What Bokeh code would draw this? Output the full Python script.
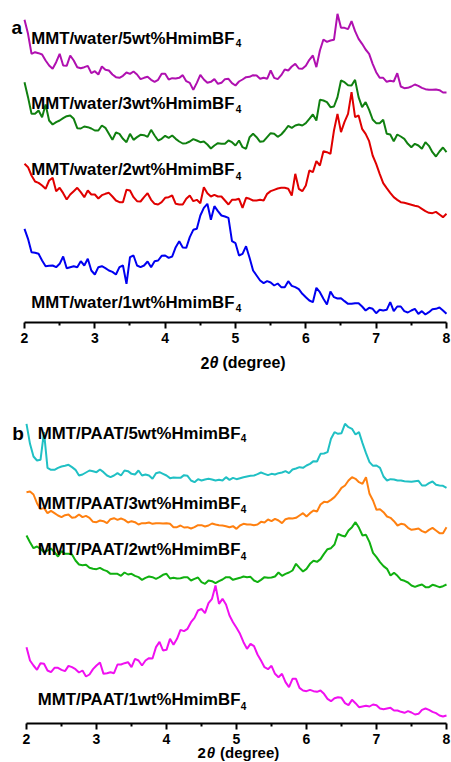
from bokeh.plotting import figure
from bokeh.models import Range1d, FixedTicker, Label
from bokeh.layouts import column
from bokeh.embed import file_html
from bokeh.resources import INLINE

# ---- scan grid (2theta, degree) ----
THETA_START = 2.0
THETA_STEP = 0.05
N_POINTS = 121
two_theta = [round(THETA_START + THETA_STEP * i, 2) for i in range(N_POINTS)]

# ---- panel a: MMT/water series (intensity, a.u., stacked) ----
water_5wt = [942, 900, 840, 845, 842, 838, 820, 805, 795, 815,
             840, 805, 804, 835, 820, 800, 797, 800, 804, 782,
             788, 778, 802, 792, 790, 778, 770, 768, 774, 784,
             780, 787, 778, 764, 768, 771, 762, 756, 762, 780,
             780, 763, 767, 766, 768, 776, 758, 753, 732, 753,
             777, 763, 753, 756, 764, 750, 753, 764, 765, 752,
             745, 757, 763, 770, 771, 776, 775, 765, 768, 765,
             790, 768, 764, 776, 793, 790, 802, 810, 796, 795,
             804, 822, 835, 800, 850, 883, 876, 880, 882, 960,
             918, 918, 914, 938, 908, 885, 870, 853, 840, 810,
             785, 768, 768, 756, 759, 757, 782, 742, 737, 738,
             742, 748, 744, 738, 734, 732, 732, 733, 731, 724,
             724]
water_3wt = [755, 710, 660, 660, 670, 650, 688, 640, 628, 635,
             640, 647, 653, 655, 645, 617, 616, 622, 620, 616,
             610, 610, 625, 618, 600, 582, 604, 600, 585, 575,
             600, 582, 590, 597, 596, 591, 612, 595, 580, 585,
             594, 588, 595, 585, 577, 571, 572, 577, 584, 580,
             575, 577, 568, 556, 565, 572, 570, 570, 580, 575,
             565, 580, 560, 555, 590, 600, 590, 576, 578, 590,
             602, 600, 591, 598, 610, 624, 618, 625, 628, 625,
             632, 645, 658, 640, 702, 700, 695, 680, 682, 710,
             760, 755, 746, 745, 762, 710, 680, 695, 672, 643,
             632, 632, 642, 600, 598, 578, 598, 592, 585, 570,
             560, 570, 565, 555, 575, 564, 545, 532, 547, 559,
             545]
water_2wt = [510, 500, 475, 457, 453, 445, 435, 460, 468, 428,
             438, 422, 403, 418, 428, 438, 425, 410, 430, 418,
             418, 406, 416, 420, 423, 412, 400, 395, 395, 432,
             430, 410, 398, 397, 410, 422, 402, 390, 388, 395,
             408, 410, 415, 390, 388, 388, 405, 415, 398, 402,
             392, 440, 422, 412, 417, 412, 412, 400, 388, 402,
             402, 405, 378, 408, 405, 400, 400, 402, 400, 420,
             428, 432, 436, 438, 438, 435, 415, 480, 435, 428,
             445, 490, 485, 518, 505, 548, 545, 540, 610, 660,
             605, 636, 660, 725, 650, 655, 615, 600, 578, 535,
             510, 480, 452, 437, 423, 410, 402, 395, 393, 390,
             387, 384, 382, 375, 368, 363, 362, 366, 358, 350,
             360]
water_1wt = [315, 285, 245, 243, 240, 220, 203, 204, 205, 200,
             210, 232, 197, 200, 203, 200, 218, 205, 225, 190,
             178, 200, 203, 197, 190, 186, 178, 200, 205, 150,
             230, 235, 205, 200, 205, 217, 200, 218, 220, 234,
             235, 228, 232, 260, 278, 259, 258, 290, 312, 315,
             355, 378, 390, 342, 383, 368, 355, 352, 348, 278,
             272, 235, 240, 263, 228, 190, 175, 160, 152, 158,
             154, 145, 151, 140, 140, 158, 144, 140, 134, 120,
             110, 100, 95, 138, 125, 105, 88, 127, 110, 106,
             107, 98, 90, 90, 92, 92, 82, 70, 78, 75,
             62, 72, 70, 72, 95, 68, 82, 82, 68, 64,
             70, 75, 60, 68, 58, 65, 74, 75, 79, 70,
             60]

# ---- panel b: MMT/PAAT series (intensity, a.u., stacked) ----
paat_5wt = [970, 910, 872, 860, 862, 945, 838, 832, 832, 838,
            842, 844, 847, 840, 832, 815, 818, 824, 830, 828,
            825, 833, 825, 815, 810, 815, 822, 815, 830, 828,
            820, 818, 830, 815, 818, 815, 805, 822, 825, 820,
            815, 807, 809, 808, 808, 816, 814, 800, 795, 804,
            800, 803, 805, 803, 800, 802, 800, 810, 802, 808,
            804, 807, 810, 812, 814, 815, 819, 824, 820, 816,
            820, 818, 822, 824, 828, 822, 833, 836, 840, 838,
            845, 850, 858, 857, 880, 881, 885, 925, 945, 940,
            942, 970, 960, 955, 938, 945, 912, 882, 855, 844,
            845, 838, 812, 800, 804, 803, 800, 800, 798, 797,
            796, 798, 799, 785, 785, 792, 797, 787, 785, 784,
            778]
paat_3wt = [765, 767, 758, 732, 714, 718, 702, 709, 702, 695,
            690, 696, 698, 688, 690, 698, 690, 694, 688, 676,
            675, 680, 678, 672, 684, 687, 682, 686, 682, 674,
            678, 675, 668, 672, 672, 674, 670, 672, 672, 671,
            672, 670, 660, 660, 665, 659, 660, 656, 660, 666,
            666, 662, 665, 671, 668, 666, 665, 663, 660, 663,
            655, 665, 670, 668, 668, 666, 668, 676, 674, 683,
            678, 685, 680, 672, 684, 687, 686, 688, 695, 702,
            692, 702, 710, 707, 728, 736, 735, 742, 750, 763,
            778, 785, 800, 810, 805, 795, 790, 810, 760, 740,
            712, 714, 705, 692, 688, 678, 665, 670, 668, 658,
            652, 654, 656, 648, 644, 652, 658, 650, 642, 642,
            660]
paat_2wt = [635, 615, 597, 602, 595, 585, 590, 596, 585, 572,
            588, 580, 580, 578, 560, 548, 546, 547, 538, 535,
            534, 538, 532, 528, 520, 520, 520, 514, 524, 518,
            520, 514, 510, 502, 508, 512, 510, 505, 510, 517,
            520, 506, 508, 506, 507, 510, 510, 500, 505, 509,
            495, 490, 500, 498, 492, 498, 503, 510, 510, 502,
            505, 508, 512, 510, 511, 500, 495, 502, 510, 508,
            509, 512, 524, 514, 520, 524, 530, 550, 538, 527,
            535, 550, 559, 556, 564, 580, 594, 597, 608, 640,
            635, 632, 650, 660, 675, 658, 635, 637, 615, 583,
            570, 555, 543, 535, 515, 523, 514, 502, 499, 494,
            485, 481, 485, 488, 480, 480, 487, 484, 480, 483,
            488]
paat_1wt = [300, 260, 245, 232, 252, 250, 230, 225, 238, 238,
            232, 228, 244, 240, 234, 224, 230, 212, 218, 234,
            245, 254, 220, 222, 225, 222, 248, 248, 252, 255,
            240, 265, 260, 245, 260, 267, 266, 300, 316, 290,
            292, 325, 307, 325, 352, 348, 355, 375, 388, 410,
            415, 402, 432, 445, 485, 430, 445, 428, 395, 375,
            358, 340, 315, 295, 310, 303, 278, 260, 240, 234,
            244, 220, 210, 220, 195, 180, 205, 205, 178, 170,
            168, 172, 168, 166, 170, 160, 145, 138, 147, 150,
            148, 132, 126, 142, 132, 120, 122, 124, 122, 128,
            126, 116, 114, 116, 118, 110, 110, 106, 103, 108,
            104, 98, 100, 112, 116, 112, 106, 102, 95, 92,
            95]

x_ticks = [2, 3, 4, 5, 6, 7, 8]
x_minor_ticks = [2.5, 3.5, 4.5, 5.5, 6.5, 7.5]

FONT = "Liberation Sans"


def style_axis(p, baseline):
    ax = p.xaxis[0]
    ax.fixed_location = baseline
    ax.bounds = (2, 8)
    ax.ticker = FixedTicker(ticks=x_ticks, minor_ticks=x_minor_ticks)
    ax.axis_line_width = 2
    ax.axis_line_color = "black"
    ax.major_tick_line_width = 2
    ax.major_tick_out = 6
    ax.major_tick_in = 0
    ax.minor_tick_line_width = 2
    ax.minor_tick_out = 3
    ax.minor_tick_in = 0
    ax.major_label_text_font = FONT
    ax.major_label_text_font_style = "bold"
    ax.major_label_text_font_size = "14px"
    ax.major_label_text_color = "black"
    ax.major_label_standoff = 4
    p.grid.visible = False
    p.outline_line_color = None
    p.background_fill_color = "white"
    p.border_fill_color = "white"


def add_text(p, x, y, text, size, style="bold"):
    p.add_layout(Label(x=x, y=y, text=text, text_font=FONT,
                       text_font_size=size, text_font_style=style,
                       text_color="black", text_baseline="alphabetic",
                       text_align="left"))


# ---------------- panel a ----------------
pa = figure(width=451, height=380, x_range=Range1d(1.6588, 8.0711),
            y_range=Range1d(-140, 1000), output_backend="svg",
            toolbar_location=None, y_axis_location=None,
            min_border=0, min_border_left=0, min_border_right=0,
            min_border_top=0, min_border_bottom=0)
style_axis(pa, 34)

series_a = [(water_5wt, "#B010B0"), (water_3wt, "#108010"),
            (water_2wt, "#E00000"), (water_1wt, "#0000F0")]
for ys, col in series_a:
    pa.line(two_theta, ys, line_color=col, line_width=2)

add_text(pa, 1.815, 920, "a", "19px")
labels_a = [("MMT/water/5wt%HmimBF", 887, 872),
            ("MMT/water/3wt%HmimBF", 692, 676),
            ("MMT/water/2wt%HmimBF", 492, 473),
            ("MMT/water/1wt%HmimBF", 95, 78)]
for t, yb, ys in labels_a:
    add_text(pa, 2.095, yb, t, "16.8px")
    add_text(pa, 5.005, ys, "4", "10px")

add_text(pa, 4.502, -86, "2", "16px")
add_text(pa, 4.630, -86, "\u03b8", "16px", "bold italic")
add_text(pa, 4.815, -86, "(degree)", "16px")

# ---------------- panel b ----------------
pb = figure(width=451, height=382, x_range=Range1d(1.6286, 8.0714),
            y_range=Range1d(-46, 1100), output_backend="svg",
            toolbar_location=None, y_axis_location=None,
            min_border=0, min_border_left=0, min_border_right=0,
            min_border_top=0, min_border_bottom=0)
style_axis(pb, 71)

series_b = [(paat_5wt, "#20C0C4"), (paat_3wt, "#FF8010"),
            (paat_2wt, "#10B010"), (paat_1wt, "#F010F0")]
for ys, col in series_b:
    pb.line(two_theta, ys, line_color=col, line_width=2)

add_text(pb, 1.796, 942, "b", "19px")
labels_b = [("MMT/PAAT/5wt%HmimBF", 942, 929),
            ("MMT/PAAT/3wt%HmimBF", 732, 715),
            ("MMT/PAAT/2wt%HmimBF", 592, 575),
            ("MMT/PAAT/1wt%HmimBF", 142, 125)]
for t, yb, ys in labels_b:
    add_text(pb, 2.161, yb, t, "16.8px")
    add_text(pb, 5.06, ys, "4", "10px")

add_text(pb, 4.443, -17, "2", "15px")
add_text(pb, 4.575, -17, "\u03b8", "15px", "bold italic")
add_text(pb, 4.765, -17, "(degree)", "15px")

layout = column(pa, pb)
open("out.html", "w").write(file_html(layout, INLINE))
